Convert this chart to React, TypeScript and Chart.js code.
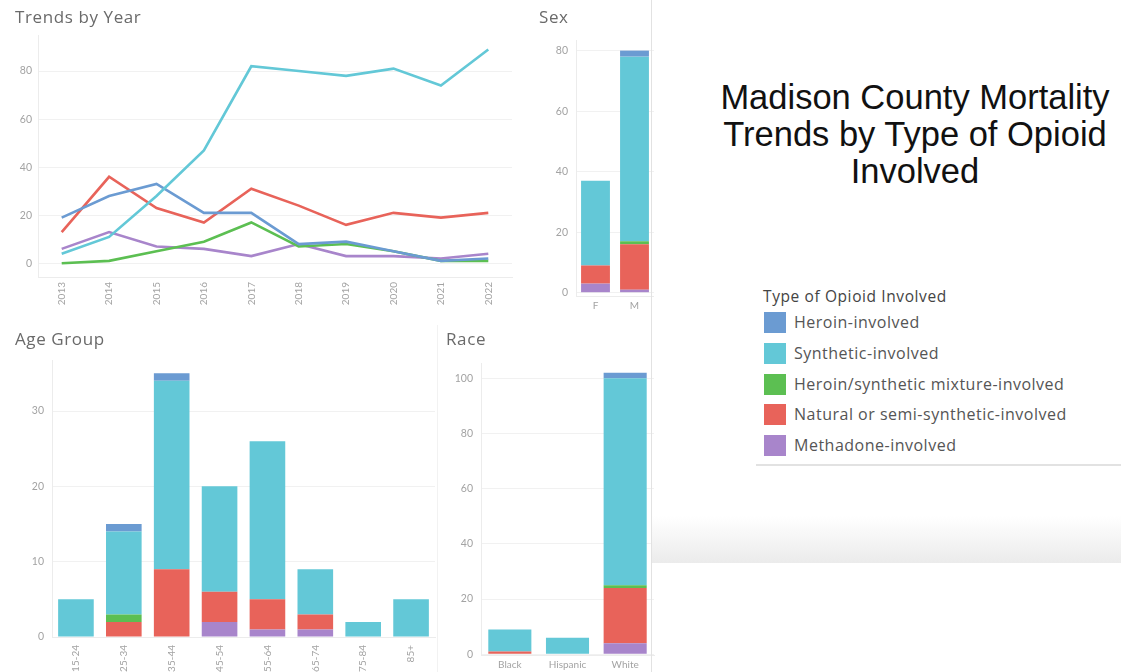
import React, { useEffect, useRef } from 'react';
import { Chart, registerables } from 'chart.js';
Chart.register(...registerables);

// ---------- DATA ----------
const seriesNames = [
  'Heroin-involved',
  'Synthetic-involved',
  'Heroin/synthetic mixture-involved',
  'Natural or semi-synthetic-involved',
  'Methadone-involved',
];
const seriesColors = ['#6b9bd2', '#63c8d7', '#5cbf52', '#e8635a', '#a885cb'];

const years = ['2013', '2014', '2015', '2016', '2017', '2018', '2019', '2020', '2021', '2022'];
const heroinByYear = [19, 28, 33, 21, 21, 8, 9, 5, 1, 2];
const syntheticByYear = [4, 11, 28, 47, 82, 80, 78, 81, 74, 89];
const mixtureByYear = [0, 1, 5, 9, 17, 7, 8, 5, 1, 1];
const naturalByYear = [13, 36, 23, 17, 31, 24, 16, 21, 19, 21];
const methadoneByYear = [6, 13, 7, 6, 3, 8, 3, 3, 2, 4];
const yearTicks = [0, 20, 40, 60, 80];

const sexCats = ['F', 'M'];
const heroinBySex = [0, 2];
const syntheticBySex = [28, 61];
const mixtureBySex = [0, 1];
const naturalBySex = [6, 15];
const methadoneBySex = [3, 1];
const sexTicks = [0, 20, 40, 60, 80];

const ageCats = ['15-24', '25-34', '35-44', '45-54', '55-64', '65-74', '75-84', '85+'];
const heroinByAge = [0, 1, 1, 0, 0, 0, 0, 0];
const syntheticByAge = [5, 11, 25, 14, 21, 6, 2, 5];
const mixtureByAge = [0, 1, 0, 0, 0, 0, 0, 0];
const naturalByAge = [0, 2, 9, 4, 4, 2, 0, 0];
const methadoneByAge = [0, 0, 0, 2, 1, 1, 0, 0];
const ageTicks = [0, 10, 20, 30];

const raceCats = ['Black', 'Hispanic', 'White'];
const heroinByRace = [0, 0, 2];
const syntheticByRace = [8, 6, 75];
const mixtureByRace = [0, 0, 1];
const naturalByRace = [1, 0, 20];
const methadoneByRace = [0, 0, 4];
const raceTicks = [0, 20, 40, 60, 80, 100];

// ---------- STYLE ----------
const FONT = 'Lato, "Open Sans", sans-serif';
const TEXT_FONT = '"Open Sans", Lato, sans-serif';
const TICK_COLOR = '#a3a3a3';
const GRID_COLOR = '#f1f1f1';
const AXIS_COLOR = '#ececec';

type Layout = {
  width: number;
  height: number;
  yWidth: number;
  xHeight: number;
  padTop: number;
  padRight: number;
  yPad: number;
  xPad: number;
  min: number;
  max: number;
  ticks: number[];
  rotate: boolean;
};

function scalesFor(L: Layout, stacked: boolean) {
  return {
    x: {
      stacked,
      offset: true,
      grid: { display: false, drawTicks: false },
      border: { display: true, color: AXIS_COLOR },
      ticks: {
        color: TICK_COLOR,
        font: { family: FONT, size: 10 },
        padding: L.xPad,
        minRotation: L.rotate ? 90 : 0,
        maxRotation: L.rotate ? 90 : 0,
        autoSkip: false,
      },
      afterFit: (s: any) => {
        s.height = L.xHeight;
      },
    },
    y: {
      stacked,
      min: L.min,
      max: L.max,
      grid: { color: GRID_COLOR, drawTicks: false },
      border: { display: true, color: AXIS_COLOR },
      ticks: {
        color: TICK_COLOR,
        font: { family: FONT, size: 10.5 },
        padding: L.yPad,
      },
      afterBuildTicks: (s: any) => {
        s.ticks = L.ticks.map((v) => ({ value: v }));
      },
      afterFit: (s: any) => {
        s.width = L.yWidth;
      },
    },
  };
}

function baseOptions(L: Layout, stacked: boolean) {
  return {
    responsive: false,
    animation: false,
    devicePixelRatio: 1,
    layout: { padding: { left: 0, right: L.padRight, top: L.padTop, bottom: 0 } },
    plugins: { legend: { display: false }, tooltip: { enabled: false } },
    scales: scalesFor(L, stacked),
  };
}

function barConfig(labels: string[], series: number[][], L: Layout, barPct: number) {
  // stacking order bottom -> top: methadone, natural, mixture, synthetic, heroin
  const order = [4, 3, 2, 1, 0];
  return {
    type: 'bar',
    data: {
      labels,
      datasets: order.map((i) => ({
        label: seriesNames[i],
        data: series[i],
        backgroundColor: seriesColors[i],
        borderWidth: 0,
        barPercentage: barPct,
        categoryPercentage: 1,
      })),
    },
    options: baseOptions(L, true),
  };
}

function lineConfig(L: Layout) {
  const series = [heroinByYear, syntheticByYear, mixtureByYear, naturalByYear, methadoneByYear];
  const order = [1, 0, 3, 2, 4];
  return {
    type: 'line',
    data: {
      labels: years,
      datasets: order.map((i) => ({
        label: seriesNames[i],
        data: series[i],
        borderColor: seriesColors[i],
        backgroundColor: seriesColors[i],
        borderWidth: 2.6,
        pointRadius: 0,
        tension: 0,
        fill: false,
      })),
    },
    options: baseOptions(L, false),
  };
}

function ChartCanvas({ left, top, width, height, make }: any) {
  const ref = useRef<HTMLCanvasElement>(null);
  useEffect(() => {
    const chart = new Chart(ref.current as HTMLCanvasElement, make() as any);
    return () => chart.destroy();
  }, []);
  return (
    <canvas
      ref={ref}
      width={width}
      height={height}
      style={{ position: 'absolute', left, top, width, height }}
    />
  );
}

const trendsLayout: Layout = {
  width: 530, height: 320, yWidth: 38, xHeight: 43, padTop: 35, padRight: 18, yPad: 6, xPad: 5,
  min: -5.7, max: 95, ticks: yearTicks, rotate: true,
};
const sexLayout: Layout = {
  width: 124, height: 320, yWidth: 46, xHeight: 24, padTop: 40, padRight: 0, yPad: 8, xPad: 4,
  min: -1.09, max: 83.5, ticks: sexTicks, rotate: false,
};
const ageLayout: Layout = {
  width: 440, height: 342, yWidth: 52, xHeight: 35, padTop: 30, padRight: 5, yPad: 8, xPad: 8,
  min: 0, max: 36.77, ticks: ageTicks, rotate: true,
};
const raceLayout: Layout = {
  width: 216, height: 342, yWidth: 41, xHeight: 17, padTop: 33, padRight: 2, yPad: 8, xPad: 4,
  min: -0.25, max: 105.5, ticks: raceTicks, rotate: false,
};

const panelTitle: React.CSSProperties = {
  position: 'absolute',
  fontFamily: TEXT_FONT,
  fontSize: 17,
  letterSpacing: 0.6,
  color: '#6a6a6a',
  lineHeight: '20px',
  whiteSpace: 'nowrap',
};

export default function App() {
  return (
    <div
      style={{
        position: 'fixed',
        left: 0,
        top: 0,
        width: 1121,
        height: 672,
        background: '#ffffff',
        overflow: 'hidden',
      }}
    >
      <ChartCanvas left={0} top={0} width={trendsLayout.width} height={trendsLayout.height}
        make={() => lineConfig(trendsLayout)} />
      <ChartCanvas left={530} top={0} width={sexLayout.width} height={sexLayout.height}
        make={() => barConfig(sexCats, [heroinBySex, syntheticBySex, mixtureBySex, naturalBySex, methadoneBySex], sexLayout, 0.74)} />
      <ChartCanvas left={0} top={330} width={ageLayout.width} height={ageLayout.height}
        make={() => barConfig(ageCats, [heroinByAge, syntheticByAge, mixtureByAge, naturalByAge, methadoneByAge], ageLayout, 0.744)} />
      <ChartCanvas left={440} top={330} width={raceLayout.width} height={raceLayout.height}
        make={() => barConfig(raceCats, [heroinByRace, syntheticByRace, mixtureByRace, naturalByRace, methadoneByRace], raceLayout, 0.747)} />

      <div style={{ ...panelTitle, left: 15, top: 7 }}>Trends by Year</div>
      <div style={{ ...panelTitle, left: 539, top: 7 }}>Sex</div>
      <div style={{ ...panelTitle, left: 15, top: 329 }}>Age Group</div>
      <div style={{ ...panelTitle, left: 446, top: 329 }}>Race</div>

      {/* separators */}
      <div style={{ position: 'absolute', left: 651, top: 0, width: 1, height: 672, background: '#e2e2e2' }} />
      <div style={{ position: 'absolute', left: 437, top: 325, width: 1, height: 347, background: '#f2f2f2' }} />

      {/* main title */}
      <div
        style={{
          position: 'absolute',
          left: 700,
          top: 79,
          width: 430,
          textAlign: 'center',
          fontFamily: '"Liberation Sans", Arial, sans-serif',
          fontSize: 34.5,
          lineHeight: '37px',
          color: '#111111',
        }}
      >
        <div>Madison County Mortality</div>
        <div>Trends by Type of Opioid</div>
        <div>Involved</div>
      </div>

      {/* legend */}
      <div style={{ position: 'absolute', left: 763, top: 286, fontFamily: TEXT_FONT, fontSize: 15.5, letterSpacing: 0.6, color: '#444', lineHeight: '20px', whiteSpace: 'nowrap' }}>
        Type of Opioid Involved
      </div>
      {seriesNames.map((name, i) => (
        <div key={name}>
          <div
            style={{
              position: 'absolute',
              left: 764,
              top: 312 + i * 30.8,
              width: 22,
              height: 21,
              background: seriesColors[i],
            }}
          />
          <div
            style={{
              position: 'absolute',
              left: 794,
              top: 312 + i * 30.8,
              height: 21,
              lineHeight: '21px',
              fontFamily: TEXT_FONT,
              fontSize: 16,
              letterSpacing: 0.5,
              color: '#555',
              whiteSpace: 'nowrap',
            }}
          >
            {name}
          </div>
        </div>
      ))}
      <div style={{ position: 'absolute', left: 756, top: 464, width: 365, height: 2, background: '#e2e2e2' }} />

      {/* bottom-right shading band */}
      <div
        style={{
          position: 'absolute',
          left: 652,
          top: 516,
          width: 469,
          height: 47,
          background: 'linear-gradient(to bottom, #ffffff, #ebebeb)',
        }}
      />
    </div>
  );
}
